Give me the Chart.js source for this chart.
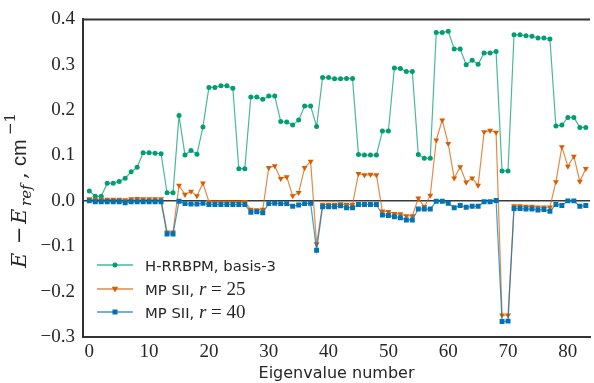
<!DOCTYPE html>
<html><head><meta charset="utf-8">
<script src="https://cdn.jsdelivr.net/npm/chart.js@4"></script>
<style>html,body{margin:0;padding:0;background:#fff;overflow:hidden}#wrap{width:594px;height:383px}</style>
</head><body><div id="wrap"><canvas id="c" width="594" height="383"></canvas></div>
<script>
// Eigenvalue numbers (categories)
const eigenvalueNumbers = [0,1,2,3,4,5,6,7,8,9,10,11,12,13,14,15,16,17,18,19,20,21,22,23,24,25,26,27,28,29,30,31,32,33,34,35,36,37,38,39,40,41,42,43,44,45,46,47,48,49,50,51,52,53,54,55,56,57,58,59,60,61,62,63,64,65,66,67,68,69,70,71,72,73,74,75,76,77,78,79,80,81,82,83];

// H-RRBPM, basis-3
const hrrbpm = [0.022,0.010,0.010,0.039,0.039,0.043,0.050,0.064,0.074,0.106,
0.106,0.105,0.104,0.018,0.018,0.188,0.101,0.111,0.103,0.163,
0.250,0.250,0.254,0.254,0.248,0.071,0.071,0.229,0.229,0.224,
0.231,0.231,0.175,0.174,0.167,0.178,0.209,0.209,0.164,0.272,
0.272,0.269,0.269,0.270,0.270,0.102,0.101,0.101,0.101,0.154,
0.154,0.293,0.292,0.285,0.285,0.102,0.094,0.094,0.371,0.371,
0.374,0.335,0.335,0.300,0.310,0.301,0.326,0.326,0.329,0.066,
0.066,0.366,0.366,0.364,0.363,0.359,0.359,0.357,0.165,0.167,
0.184,0.184,0.162,0.162];

// MP SII, r = 25
const mpR25 = [0.004,0.003,0.003,0.003,0.003,0.003,0.002,0.004,0.005,0.004,
0.004,0.004,0.004,-0.069,-0.069,0.034,0.014,0.021,0.011,0.039,
-0.002,-0.003,-0.003,-0.003,-0.003,-0.003,-0.002,-0.019,-0.020,-0.019,
0.073,0.077,0.049,0.053,0.011,0.018,0.073,0.087,-0.095,-0.008,
-0.008,-0.008,-0.007,-0.008,-0.008,0.060,0.057,0.058,0.057,-0.023,
-0.024,-0.028,-0.029,-0.033,-0.033,0.006,-0.013,0.012,0.134,0.178,
0.126,0.050,0.075,0.041,0.050,0.034,0.152,0.155,0.151,-0.252,
-0.252,-0.011,-0.011,-0.012,-0.012,-0.014,-0.014,-0.014,0.042,0.119,
0.076,0.098,0.043,0.071];

// MP SII, r = 40
const mpR40 = [0.000,-0.002,-0.002,-0.002,-0.002,-0.002,-0.004,-0.002,-0.002,-0.002,
-0.002,-0.002,-0.002,-0.073,-0.073,-0.001,-0.006,-0.007,-0.007,-0.005,
-0.008,-0.008,-0.008,-0.008,-0.008,-0.008,-0.008,-0.025,-0.024,-0.026,
-0.006,-0.005,-0.006,-0.006,-0.012,-0.009,-0.006,-0.005,-0.109,-0.013,
-0.013,-0.013,-0.011,-0.015,-0.015,-0.008,-0.008,-0.008,-0.008,-0.031,
-0.032,-0.035,-0.037,-0.042,-0.042,-0.018,-0.018,-0.018,-0.001,-0.001,
-0.005,-0.015,-0.010,-0.014,-0.012,-0.012,-0.002,-0.002,0.001,-0.266,
-0.265,-0.017,-0.017,-0.018,-0.018,-0.020,-0.019,-0.023,-0.008,-0.010,
0.000,0.000,-0.012,-0.010];

const xTickValues = [0,10,20,30,40,50,60,70,80];
const yTickValues = [-0.3,-0.2,-0.1,0.0,0.1,0.2,0.3,0.4];

const GREEN = '#029E73', ORANGE = '#D55E00', BLUE = '#0173B2';
const GREEN_L = 'rgba(2,158,115,0.72)', ORANGE_L = 'rgba(213,94,0,0.72)', BLUE_L = 'rgba(1,115,178,0.72)';
const INK = '#262626', SPINE = '#333333';

const toPts = arr => eigenvalueNumbers.map((x, i) => ({x: x, y: arr[i]}));

const legendItems = [
  {color: GREEN, light: GREEN_L, style: 'circle', parts: [['sans', 'H-RRBPM, basis-3']]},
  {color: ORANGE, light: ORANGE_L, style: 'tri', parts: [['sans', 'MP SII, '], ['it', 'r'], ['serif', ' = 25']]},
  {color: BLUE, light: BLUE_L, style: 'rect', parts: [['sans', 'MP SII, '], ['it', 'r'], ['serif', ' = 40']]}
];
const fonts = {sans: '14.8px "DejaVu Sans"', it: 'italic 19px "Liberation Serif"', serif: '19px "Liberation Serif"'};

function drawMarker(ctx, style, x, y, color) {
  ctx.fillStyle = color;
  ctx.beginPath();
  if (style === 'circle') { ctx.arc(x, y, 2.5, 0, Math.PI * 2); }
  else if (style === 'rect') { ctx.rect(x - 2.5, y - 2.5, 5, 5); }
  else { ctx.moveTo(x - 3.2, y - 2.2); ctx.lineTo(x + 3.2, y - 2.2); ctx.lineTo(x, y + 3.4); ctx.closePath(); }
  ctx.fill();
}

const extras = {
  id: 'extras',
  afterDraw(chart) {
    const ctx = chart.ctx, a = chart.chartArea;
    ctx.save();
    // top spine
    ctx.strokeStyle = SPINE; ctx.lineWidth = 2;
    ctx.beginPath(); ctx.moveTo(a.left - 1, a.top); ctx.lineTo(a.right, a.top); ctx.stroke();
    // legend
    const rows = [265, 289, 312];
    legendItems.forEach((it, k) => {
      const y = rows[k];
      ctx.strokeStyle = it.light; ctx.lineWidth = 1.6;
      ctx.beginPath(); ctx.moveTo(97, y); ctx.lineTo(133, y); ctx.stroke();
      drawMarker(ctx, it.style, 115, y, it.color);
      let x = 145;
      ctx.fillStyle = INK; ctx.textBaseline = 'alphabetic'; ctx.textAlign = 'left';
      it.parts.forEach(p => {
        ctx.font = fonts[p[0]];
        ctx.fillText(p[1], x, y + 5.5);
        x += ctx.measureText(p[1]).width;
      });
    });
    // y axis title: E − E_ref, cm^-1 (rotated)
    ctx.translate(26, 268);
    ctx.rotate(-Math.PI / 2);
    ctx.fillStyle = INK; ctx.textAlign = 'left'; ctx.textBaseline = 'alphabetic';
    const yparts = [
      ['italic 21px "DejaVu Serif"', 'E', 0, 0],
      ['21px "DejaVu Serif"', '\u2212', 24, 0],
      ['italic 21px "DejaVu Serif"', 'E', 44, 0],
      ['italic 15px "DejaVu Serif"', 'ref', 62, 5],
      ['21px "DejaVu Serif"', ',', 89, 0],
      ['20px "Liberation Sans"', 'cm', 102, 0],
      ['15px "DejaVu Serif"', '\u22121', 133, -11]
    ];
    yparts.forEach(p => { ctx.font = p[0]; ctx.fillText(p[1], p[2], p[3]); });
    ctx.restore();
  }
};

new Chart(document.getElementById('c'), {
  type: 'line',
  data: {
    datasets: [
      {label: 'H-RRBPM, basis-3', data: toPts(hrrbpm), borderColor: GREEN_L, borderWidth: 1.2,
       pointStyle: 'circle', pointRadius: 2.5, pointBackgroundColor: GREEN, pointBorderColor: GREEN, pointBorderWidth: 0, order: 3},
      {label: 'MP SII, r = 25', data: toPts(mpR25), borderColor: ORANGE_L, borderWidth: 1.2,
       pointStyle: 'triangle', pointRotation: 180, pointRadius: 3.4, pointBackgroundColor: ORANGE, pointBorderColor: ORANGE, pointBorderWidth: 0, order: 2},
      {label: 'MP SII, r = 40', data: toPts(mpR40), borderColor: BLUE_L, borderWidth: 1.2,
       pointStyle: 'rect', pointRadius: 3.5, pointBackgroundColor: BLUE, pointBorderColor: BLUE, pointBorderWidth: 0, order: 1}
    ]
  },
  options: {
    responsive: false, devicePixelRatio: 1, animation: false,
    layout: {padding: {top: 14, left: 0, right: 0, bottom: 0}},
    plugins: {legend: {display: false}, tooltip: {enabled: false}},
    elements: {line: {tension: 0}},
    scales: {
      x: {
        type: 'linear', min: -1.05, max: 83.7,
        afterBuildTicks: s => { s.ticks = xTickValues.map(v => ({value: v})); },
        afterFit: s => { s.height = 46; },
        grid: {display: false, drawTicks: false},
        border: {display: true, color: SPINE, width: 2},
        ticks: {font: {family: 'Liberation Serif', size: 19}, color: INK, padding: 4, maxRotation: 0, autoSkip: false,
                callback: v => String(v)},
        title: {display: true, text: 'Eigenvalue number', font: {family: 'DejaVu Sans', size: 16}, color: INK, padding: {top: 0, bottom: 0}}
      },
      y: {
        type: 'linear', min: -0.3, max: 0.4,
        afterBuildTicks: s => { s.ticks = yTickValues.map(v => ({value: v})); },
        afterFit: s => { s.width = 83; },
        grid: {display: true, drawTicks: false, lineWidth: 1.5,
               color: c => (c.tick && Math.abs(c.tick.value) < 1e-9) ? '#3a3a3a' : 'rgba(0,0,0,0)'},
        border: {display: true, color: SPINE, width: 2},
        ticks: {font: {family: 'Liberation Serif', size: 19}, color: INK, padding: 8,
                callback: v => (v < -1e-9 ? '\u2212' : '') + Math.abs(v).toFixed(1)}
      }
    }
  },
  plugins: [extras]
});
</script></body></html>
